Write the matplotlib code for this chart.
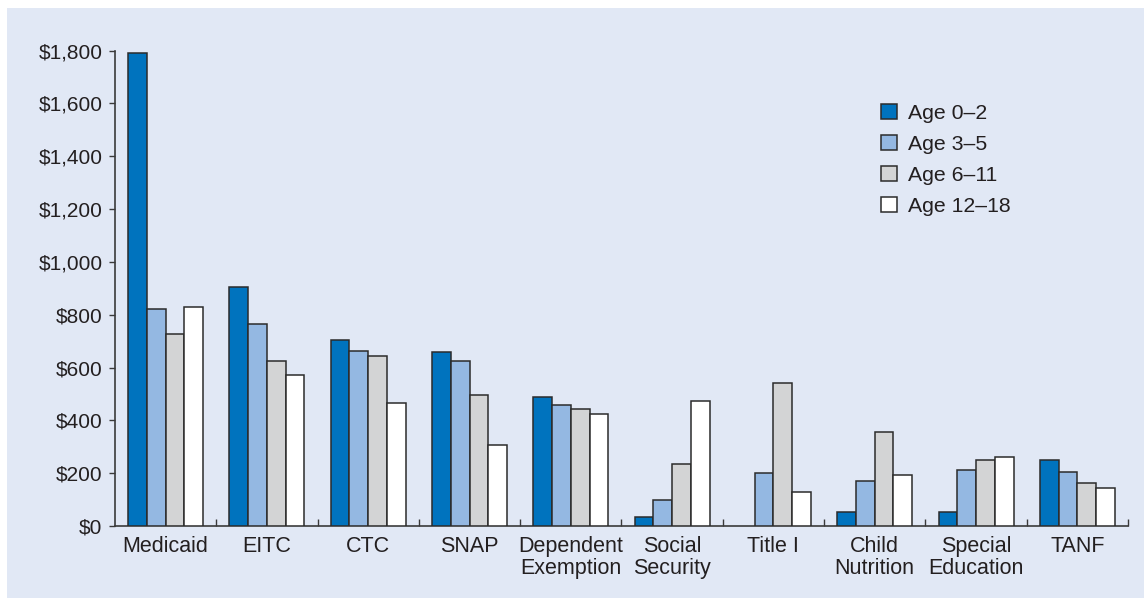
import numpy as np
import matplotlib
matplotlib.use('Agg')
import matplotlib.pyplot as plt
from matplotlib.patches import Rectangle
from matplotlib.ticker import FuncFormatter, FixedLocator

# Programas e gasto por criança em cada faixa etária
programas = ['Medicaid', 'EITC', 'CTC', 'SNAP', 'Dependent\nExemption',
             'Social\nSecurity', 'Title I', 'Child\nNutrition',
             'Special\nEducation', 'TANF']
faixas = ['Age 0\u20132', 'Age 3\u20135', 'Age 6\u201311', 'Age 12\u201318']

idade_0_2 = [1790, 905, 703, 659, 488, 34, 0, 52, 52, 249]
idade_3_5 = [821, 766, 664, 623, 457, 98, 201, 170, 212, 206]
idade_6_11 = [728, 626, 644, 496, 442, 235, 541, 357, 250, 162]
idade_12_18 = [830, 573, 466, 308, 425, 474, 129, 193, 261, 144]

cores = ['#0073BE', '#94B8E2', '#D3D4D5', '#FFFFFF']
fundo = '#E1E8F5'
texto = '#231F20'

plt.rcParams['font.family'] = ['Liberation Sans', 'DejaVu Sans']

fig = plt.figure(figsize=(11.44, 5.98), dpi=100, facecolor='white')
# painel de fundo azul claro, com uma margem branca em cima e à esquerda
fig.patches.append(Rectangle((7 / 1144, 0), 1, 1 - 8 / 598,
                             transform=fig.transFigure, facecolor=fundo,
                             edgecolor='none', zorder=-10))
ax = fig.add_axes([0.1005, 0.1204, 0.986 - 0.1005, 0.9155 - 0.1204])
ax.set_facecolor(fundo)

x = np.arange(len(programas))
largura = 0.185
series = [idade_0_2, idade_3_5, idade_6_11, idade_12_18]
for i, (vals, cor, nome) in enumerate(zip(series, cores, faixas)):
    pos = x + (i - 1.5) * largura
    # barras com valor zero ficam sem contorno
    bordas = ['#2B2B2B' if v > 0 else 'none' for v in vals]
    ax.bar(pos, vals, width=largura, color=cor, edgecolor=bordas,
           linewidth=1.1, label=nome, zorder=3)

ax.set_xlim(-0.5, len(programas) - 0.5)
ax.set_ylim(0, 1800)
ax.set_yticks(np.arange(0, 1801, 200))
ax.yaxis.set_major_formatter(FuncFormatter(lambda v, p: f'${v:,.0f}'))

ax.set_xticks(x)
ax.set_xticklabels(programas, fontsize=15.5, color=texto, linespacing=1.08)
ax.tick_params(axis='x', length=0, pad=7)
ax.xaxis.set_minor_locator(FixedLocator(x + 0.5))
ax.tick_params(axis='x', which='minor', direction='in', length=5,
               width=1, color='#3A3A3A')
ax.tick_params(axis='y', direction='out', length=4, width=1,
               color='#3A3A3A', labelsize=15, labelcolor=texto, pad=5)

for lado in ['top', 'right']:
    ax.spines[lado].set_visible(False)
for lado in ['left', 'bottom']:
    ax.spines[lado].set_color('#3A3A3A')
    ax.spines[lado].set_linewidth(1.2)

leg = ax.legend(loc='upper left', bbox_to_anchor=(0.748, 0.905),
                frameon=False, fontsize=15.3, handlelength=0.72,
                handleheight=0.72, handletextpad=0.55, labelspacing=0.56,
                borderaxespad=0)
leg.legend_handles[3].set_edgecolor('#2B2B2B')
for t in leg.get_texts():
    t.set_color(texto)

fig.savefig('out.png', dpi=100, facecolor=fig.get_facecolor())
